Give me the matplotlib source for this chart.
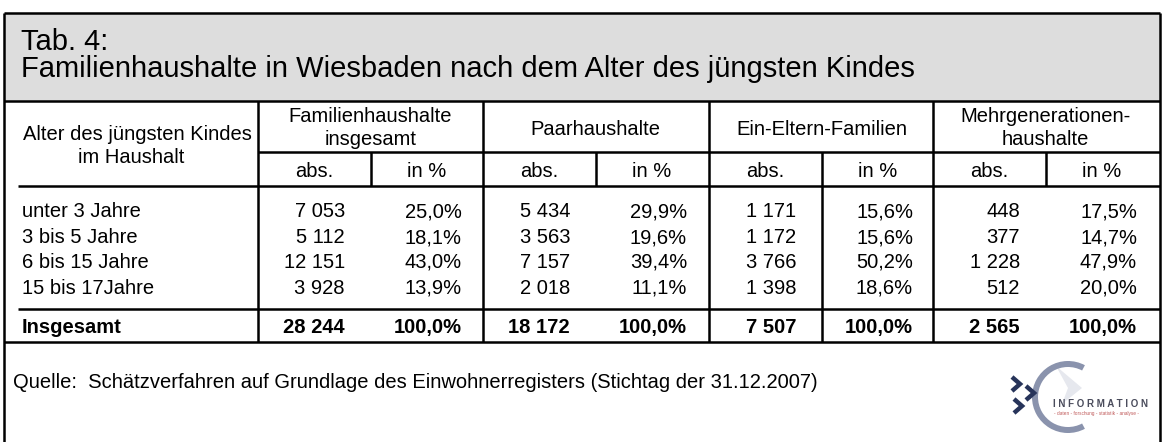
import matplotlib.pyplot as plt
from matplotlib.patches import Rectangle, Wedge, Polygon

plt.rcParams['font.family'] = ['Liberation Sans', 'DejaVu Sans']

# Tabellendaten
title_line1 = "Tab. 4:"
title_line2 = "Familienhaushalte in Wiesbaden nach dem Alter des jüngsten Kindes"
row_labels = ["unter 3 Jahre", "3 bis 5 Jahre", "6 bis 15 Jahre", "15 bis 17Jahre"]
group_names = [["Familienhaushalte", "insgesamt"], ["Paarhaushalte"],
               ["Ein-Eltern-Familien"], ["Mehrgenerationen-", "haushalte"]]
sub_names = ["abs.", "in %"]

fam_abs = [7053, 5112, 12151, 3928]
fam_pct = [25.0, 18.1, 43.0, 13.9]
paar_abs = [5434, 3563, 7157, 2018]
paar_pct = [29.9, 19.6, 39.4, 11.1]
ein_abs = [1171, 1172, 3766, 1398]
ein_pct = [15.6, 15.6, 50.2, 18.6]
mehr_abs = [448, 377, 1228, 512]
mehr_pct = [17.5, 14.7, 47.9, 20.0]
total_abs = [28244, 18172, 7507, 2565]
total_pct = [100.0, 100.0, 100.0, 100.0]

source_text = "Quelle:  Schätzverfahren auf Grundlage des Einwohnerregisters (Stichtag der 31.12.2007)"

abs_cols = [fam_abs, paar_abs, ein_abs, mehr_abs]
pct_cols = [fam_pct, paar_pct, ein_pct, mehr_pct]


def fmt_abs(v):
    return f"{v:,}".replace(",", " ")


def fmt_pct(v):
    return f"{v:.1f}%".replace(".", ",")


# Layout in Pixeln
W, H = 1163, 442
left, right, top = 4, 1160, 13
band_bottom = 101
group_line = 152
head_bottom = 186
total_line = 309
table_bottom = 342
group_x = [258, 483, 709, 933]
group_w = 225
row_base = [217, 243, 268, 294]
total_base = 333
fs = 14.5
lw = 1.8

fig = plt.figure(figsize=(W / 100, H / 100), dpi=100)
ax = fig.add_axes([0, 0, 1, 1])
ax.set_xlim(0, W)
ax.set_ylim(H, 0)
ax.axis('off')

# Titelband
ax.add_patch(Rectangle((left, top), right - left, band_bottom - top, facecolor='#dddddd', edgecolor='none'))
ax.text(21, 50, title_line1, fontsize=21, va='baseline', ha='left')
ax.text(21, 77, title_line2, fontsize=21, va='baseline', ha='left')

# Linien
def hline(y, x0, x1):
    ax.plot([x0, x1], [y, y], color='black', lw=lw, solid_capstyle='butt')


def vline(x, y0, y1):
    ax.plot([x, x], [y0, y1], color='black', lw=lw, solid_capstyle='butt')


hline(top, left, right)
hline(band_bottom, left, right)
hline(group_line, group_x[0], right)
hline(head_bottom, 18, right)
hline(total_line, 18, right)
hline(table_bottom, left, right)
vline(left, top, H)
vline(right, top, H)
for gx in group_x:
    vline(gx, band_bottom, table_bottom)
for i, gx in enumerate(group_x):
    sx = gx + 113
    if i == 2:
        # nur bei Ein-Eltern-Familien geht die Trennlinie bis unten durch
        vline(sx, group_line, table_bottom)
    else:
        vline(sx, group_line, head_bottom)

# Kopfzeilen
ax.text(137, 140, "Alter des jüngsten Kindes", fontsize=fs, ha='center', va='baseline')
ax.text(131, 163, "im Haushalt", fontsize=fs, ha='center', va='baseline')
for gx, names in zip(group_x, group_names):
    cx = gx + group_w / 2
    if len(names) == 2:
        ax.text(cx, 122, names[0], fontsize=fs, ha='center', va='baseline')
        ax.text(cx, 145, names[1], fontsize=fs, ha='center', va='baseline')
    else:
        ax.text(cx, 135, names[0], fontsize=fs, ha='center', va='baseline')
    ax.text(gx + 56, 177, sub_names[0], fontsize=fs, ha='center', va='baseline')
    ax.text(gx + 169, 177, sub_names[1], fontsize=fs, ha='center', va='baseline')

# Datenzeilen
for r, label in enumerate(row_labels):
    ax.text(22, row_base[r], label, fontsize=fs, ha='left', va='baseline')
    for gx, a, p in zip(group_x, abs_cols, pct_cols):
        ax.text(gx + 87, row_base[r], fmt_abs(a[r]), fontsize=fs, ha='right', va='baseline')
        ax.text(gx + 204, row_base[r], fmt_pct(p[r]), fontsize=fs, ha='right', va='baseline')

ax.text(22, total_base, "Insgesamt", fontsize=fs, fontweight='bold', ha='left', va='baseline')
for gx, a, p in zip(group_x, total_abs, total_pct):
    ax.text(gx + 87, total_base, fmt_abs(a), fontsize=fs, fontweight='bold', ha='right', va='baseline')
    ax.text(gx + 204, total_base, fmt_pct(p), fontsize=fs, fontweight='bold', ha='right', va='baseline')

# Quelle
ax.text(13, 388, source_text, fontsize=fs, ha='left', va='baseline')

# Logo
cx, cy = 1068, 397
ax.add_patch(Polygon([[1056, 366], [1082, 388], [1062, 404], [1068, 388]], closed=True,
                     facecolor='#e6e8ee', edgecolor='none'))
ax.add_patch(Wedge((cx, cy), 36, 62, 298, width=6, facecolor='#8a93ad', edgecolor='none'))
for px, py in [(1012, 377), (1026, 386), (1014, 399)]:
    ax.plot([px, px + 8, px], [py, py + 7, py + 14], color='#27345a', lw=3.2,
            solid_joinstyle='miter', solid_capstyle='butt')
ax.text(1053, 407, " ".join("INFORMATION"), fontsize=7.0, fontweight='bold', color='#4a4c5c',
        ha='left', va='baseline')
ax.text(1054, 415, "- daten - forschung - statistik - analyse -", fontsize=3.4, color='#c05a5a',
        ha='left', va='baseline')

fig.savefig("out.png", dpi=100)
